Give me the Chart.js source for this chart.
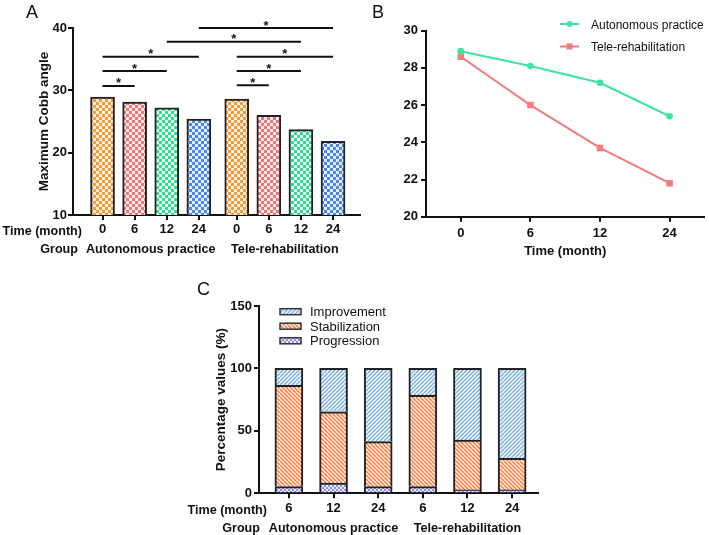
<!DOCTYPE html>
<html><head><meta charset="utf-8">
<script src="https://cdn.jsdelivr.net/npm/chart.js@4.4.1/dist/chart.umd.min.js"></script>
<style>
html,body{margin:0;padding:0;background:#fff;width:709px;height:535px;overflow:hidden;}
canvas{position:absolute;}
#cA{left:0;top:0;width:365px;height:265px;}
#cB{left:360px;top:0;width:349px;height:265px;}
#cC{left:180px;top:265px;width:365px;height:270px;}
</style></head><body>
<canvas id="cA" width="365" height="265"></canvas>
<canvas id="cB" width="349" height="265"></canvas>
<canvas id="cC" width="365" height="270"></canvas>
<script>
// ---------------- DATA ----------------
const timeLabels = ['0', '6', '12', '24'];
const groupNames = ['Autonomous practice', 'Tele-rehabilitation'];
const autonomousCobb = [28.9, 28.1, 27.2, 25.4];
const teleCobb = [28.6, 26.0, 23.7, 21.8];
const yTicksA = [10, 20, 30, 40];
const yTicksB = [20, 22, 24, 26, 28, 30];
// significance comparisons (bar index pairs) and bracket heights (Cobb angle units)
const sigPairs = [[0, 1], [0, 2], [0, 3], [2, 6], [3, 7], [4, 5], [4, 6], [4, 7]];
const sigLevels = [30.7, 33.1, 35.4, 37.8, 40.0, 30.8, 33.1, 35.4];
const timeLabelsC = ['6', '12', '24'];
const seriesNamesC = ['Improvement', 'Stabilization', 'Progression'];
const progression = [5.4, 8.1, 5.4, 5.4, 2.7, 2.7];
const stabilization = [81.1, 57.2, 36.0, 73.0, 40.0, 25.3];
const improvement = [13.5, 34.7, 58.6, 21.6, 57.3, 72.0];
const yTicksC = [0, 50, 100, 150];

// ---------------- STYLE HELPERS ----------------
const FONT = "'Liberation Sans', Arial, Helvetica, sans-serif";
const INK = '#111';
Chart.defaults.font.family = FONT;
Chart.defaults.color = INK;

function tile(size, draw) {
  const c = document.createElement('canvas'); c.width = size; c.height = size;
  const g = c.getContext('2d'); draw(g, size);
  return g.createPattern(c, 'repeat');
}
function checker(color, tint) {
  return tile(6, (g) => {
    g.fillStyle = tint; g.fillRect(0, 0, 6, 6);
    g.fillStyle = color; g.fillRect(0, 0, 3, 3); g.fillRect(3, 3, 3, 3);
  });
}
function stripes(bg, fg, dir) {
  return tile(4, (g, p) => {
    g.fillStyle = bg; g.fillRect(0, 0, p, p);
    g.strokeStyle = fg; g.lineWidth = 1.4; g.beginPath();
    for (let k = -1; k <= 1; k++) {
      if (dir === '/') { g.moveTo(k * p, p); g.lineTo(k * p + p, 0); }
      else { g.moveTo(k * p, 0); g.lineTo(k * p + p, p); }
    }
    g.stroke();
  });
}
function dots(bg, fg) {
  return tile(4, (g) => {
    g.fillStyle = bg; g.fillRect(0, 0, 4, 4);
    g.fillStyle = fg; g.fillRect(0, 0, 2, 2); g.fillRect(2, 2, 2, 2);
  });
}
const checkA = [
  checker('#F59A34', '#FDF0E2'),
  checker('#F07579', '#FDECEC'),
  checker('#36D893', '#E6FAF1'),
  checker('#4689EA', '#E7F0FC')
];
const patImp = stripes('#EEF5FD', '#7DB2E6', '/');
const patStab = stripes('#FDEEE4', '#EE7C3E', '\\');
const patProg = dots('#ECECFC', '#8F8FE8');

function fixedBox(w, h) {
  return (scale) => { if (w != null) scale.width = w; if (h != null) scale.height = h; };
}
const axisCommon = {
  border: { display: true, color: INK, width: 2 },
  grid: { drawOnChartArea: false, drawTicks: true, tickLength: 5, color: INK, lineWidth: 2, offset: false },
};
const tickFont = { family: FONT, size: 13, weight: 'bold' };
const titleFont = { family: FONT, size: 13.5, weight: 'bold' };

function txt(ctx, s, x, y, align, font) {
  ctx.save(); ctx.font = font; ctx.fillStyle = INK; ctx.textAlign = align; ctx.textBaseline = 'alphabetic';
  ctx.fillText(s, x, y); ctx.restore();
}
const BOLD13 = "bold 13px " + FONT;
const BOLDROW = "bold 12.6px " + FONT;

// ---------------- PANEL A ----------------
const GAP_A = 0.18;
const xPosA = [];
const valuesA = autonomousCobb.concat(teleCobb);
groupNames.forEach((g, gi) => timeLabels.forEach((t, ti) => xPosA.push(gi * (timeLabels.length + GAP_A) + ti)));

const pluginA = {
  id: 'annoA',
  afterDraw(chart) {
    const { ctx } = chart; const xs = chart.scales.x; const ys = chart.scales.y;
    ctx.save();
    ctx.strokeStyle = INK; ctx.lineWidth = 2;
    sigPairs.forEach((p, i) => {
      const x1 = xs.getPixelForValue(xPosA[p[0]]);
      const x2 = xs.getPixelForValue(xPosA[p[1]]);
      const y = ys.getPixelForValue(sigLevels[i]);
      ctx.beginPath(); ctx.moveTo(x1, y); ctx.lineTo(x2, y); ctx.stroke();
      txt(ctx, '*', (x1 + x2) / 2, y + 1.5, 'center', BOLD13);
    });
    ctx.restore();
    txt(ctx, 'A', 26, 18, 'left', "18px " + FONT);
    txt(ctx, 'Time (month)', 82, 234.5, 'right', BOLDROW);
    txt(ctx, 'Group', 78, 253, 'right', BOLDROW);
    groupNames.forEach((g, gi) => {
      const a = xs.getPixelForValue(xPosA[gi * 4]);
      const b = xs.getPixelForValue(xPosA[gi * 4 + 3]);
      txt(ctx, g, (a + b) / 2, 253, 'center', BOLDROW);
    });
  }
};

new Chart(document.getElementById('cA'), {
  type: 'bar',
  data: {
    datasets: [{
      data: xPosA.map((x, i) => ({ x: x, y: valuesA[i] })),
      backgroundColor: xPosA.map((x, i) => checkA[i % 4]),
      borderColor: '#222', borderWidth: 2, barThickness: 24
    }]
  },
  options: {
    responsive: false, animation: false, events: [],
    layout: { padding: { left: 0, top: 28, right: 5, bottom: 0 } },
    plugins: { legend: { display: false }, tooltip: { enabled: false } },
    scales: {
      x: Object.assign({}, axisCommon, {
        type: 'linear', offset: false, min: -0.92, max: 8.02,
        afterBuildTicks: (s) => { s.ticks = xPosA.map(v => ({ value: v })); },
        ticks: { autoSkip: false, maxRotation: 0, padding: 2, font: tickFont, color: INK,
          callback: (v, i) => timeLabels[i % timeLabels.length] },
        afterFit: fixedBox(null, 50)
      }),
      y: Object.assign({}, axisCommon, {
        min: yTicksA[0], max: yTicksA[yTicksA.length - 1],
        ticks: { stepSize: yTicksA[1] - yTicksA[0], padding: 1, font: tickFont, color: INK },
        title: { display: true, text: 'Maximum Cobb angle', font: titleFont, color: INK, padding: { top: 36, bottom: 0 } },
        afterFit: fixedBox(73, null)
      })
    }
  },
  plugins: [pluginA]
});

// ---------------- PANEL B ----------------
const GREEN = '#3DE39E', RED = '#F47A7C';
const pluginB = {
  id: 'annoB',
  afterDraw(chart) {
    const { ctx } = chart;
    txt(ctx, 'B', 12, 18, 'left', "18px " + FONT);
    const items = [
      { name: groupNames[0], color: GREEN, y: 24, style: 'circle' },
      { name: groupNames[1], color: RED, y: 46.5, style: 'rect' }
    ];
    items.forEach(it => {
      ctx.save();
      ctx.strokeStyle = it.color; ctx.lineWidth = 2;
      ctx.beginPath(); ctx.moveTo(200, it.y); ctx.lineTo(219, it.y); ctx.stroke();
      ctx.fillStyle = it.color;
      if (it.style === 'circle') { ctx.beginPath(); ctx.arc(209.5, it.y, 3, 0, Math.PI * 2); ctx.fill(); }
      else { ctx.fillRect(206.5, it.y - 3, 6, 6); }
      ctx.restore();
      txt(ctx, it.name, 231, it.y + 4.5, 'left', "12px " + FONT);
    });
  }
};
new Chart(document.getElementById('cB'), {
  type: 'line',
  data: {
    labels: timeLabels,
    datasets: [
      { label: groupNames[0], data: autonomousCobb, borderColor: GREEN, backgroundColor: GREEN,
        borderWidth: 2, pointRadius: 3.3, pointBorderWidth: 0, pointStyle: 'circle', tension: 0 },
      { label: groupNames[1], data: teleCobb, borderColor: RED, backgroundColor: RED,
        borderWidth: 2, pointRadius: 4.6, pointBorderWidth: 0, pointStyle: 'rect', tension: 0 }
    ]
  },
  options: {
    responsive: false, animation: false, events: [],
    layout: { padding: { left: 0, top: 30.7, right: 4, bottom: 0 } },
    plugins: { legend: { display: false }, tooltip: { enabled: false } },
    scales: {
      x: Object.assign({}, axisCommon, {
        offset: true,
        ticks: { padding: 4, font: tickFont, color: INK, maxRotation: 0 },
        title: { display: true, text: 'Time (month)', font: tickFont, color: INK, padding: { top: 0, bottom: 6 } },
        afterFit: fixedBox(null, 48.3)
      }),
      y: Object.assign({}, axisCommon, {
        min: yTicksB[0], max: yTicksB[yTicksB.length - 1],
        ticks: { stepSize: yTicksB[1] - yTicksB[0], padding: 3, font: tickFont, color: INK },
        afterFit: fixedBox(66, null)
      })
    }
  },
  plugins: [pluginB]
});

// ---------------- PANEL C ----------------
const xPosC = [];
groupNames.forEach((g, gi) => timeLabelsC.forEach((t, ti) => xPosC.push(gi * timeLabelsC.length + ti)));
const pluginC = {
  id: 'annoC',
  afterDraw(chart) {
    const { ctx } = chart; const xs = chart.scales.x;
    txt(ctx, 'C', 17, 30, 'left', "18px " + FONT);
    const pats = [patImp, patStab, patProg];
    const rows = [46.7, 61.2, 75.8];
    seriesNamesC.forEach((n, i) => {
      ctx.save();
      ctx.fillStyle = pats[i]; ctx.fillRect(100, rows[i] - 3, 21, 6);
      ctx.strokeStyle = '#333'; ctx.lineWidth = 1.5; ctx.strokeRect(100, rows[i] - 3, 21, 6);
      ctx.restore();
      txt(ctx, n, 130, rows[i] + 4.6, 'left', "13px " + FONT);
    });
    txt(ctx, 'Time (month)', 87, 249, 'right', BOLDROW);
    txt(ctx, 'Group', 80, 266.5, 'right', BOLDROW);
    groupNames.forEach((g, gi) => {
      const n = timeLabelsC.length;
      const a = xs.getPixelForValue(xPosC[gi * n]);
      const b = xs.getPixelForValue(xPosC[gi * n + n - 1]);
      txt(ctx, g, (a + b) / 2, 266.5, 'center', BOLDROW);
    });
  }
};
function stackDs(label, values, pat) {
  return { label: label, data: xPosC.map((x, i) => ({ x: x, y: values[i] })),
    backgroundColor: pat, borderColor: '#222', borderWidth: 2, barThickness: 28 };
}
new Chart(document.getElementById('cC'), {
  type: 'bar',
  data: {
    datasets: [
      stackDs('Progression', progression, patProg),
      stackDs('Stabilization', stabilization, patStab),
      stackDs('Improvement', improvement, patImp)
    ]
  },
  options: {
    responsive: false, animation: false, events: [],
    layout: { padding: { left: 0, top: 41, right: 7, bottom: 0 } },
    plugins: { legend: { display: false }, tooltip: { enabled: false } },
    scales: {
      x: Object.assign({}, axisCommon, {
        type: 'linear', offset: false, stacked: true, min: -0.67, max: 5.58,
        afterBuildTicks: (s) => { s.ticks = xPosC.map(v => ({ value: v })); },
        ticks: { autoSkip: false, maxRotation: 0, padding: 2, font: tickFont, color: INK,
          callback: (v, i) => timeLabelsC[i % timeLabelsC.length] },
        afterFit: fixedBox(null, 41.7)
      }),
      y: Object.assign({}, axisCommon, {
        stacked: true,
        min: yTicksC[0], max: yTicksC[yTicksC.length - 1],
        ticks: { stepSize: yTicksC[1] - yTicksC[0], padding: 2, font: tickFont, color: INK },
        title: { display: true, text: 'Percentage values (%)', font: titleFont, color: INK, padding: { top: 33.6, bottom: 0 } },
        afterFit: fixedBox(79, null)
      })
    }
  },
  plugins: [pluginC]
});
</script>
</body></html>
